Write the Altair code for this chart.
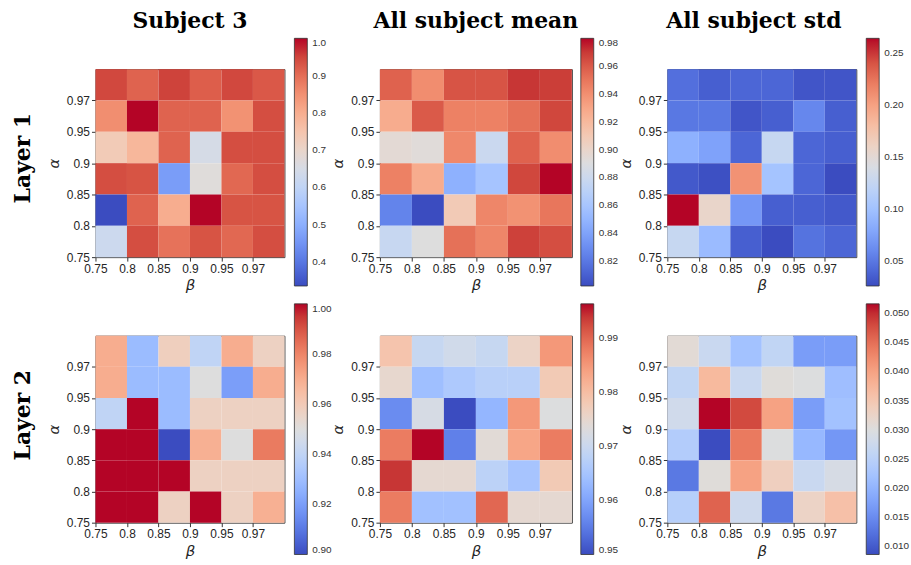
import json
import numpy as np
import pandas as pd
import altair as alt

# ---------------- data ----------------
BETA_LABELS = ["0.75", "0.8", "0.85", "0.9", "0.95", "0.97"]
ALPHA_LABELS = ["0.75", "0.8", "0.85", "0.9", "0.95", "0.97"]
PANEL_TITLES = ["Subject 3", "All subject mean", "All subject std"]
ROW_LABELS = ["Layer 1", "Layer 2"]

# each matrix: rows from top (alpha=0.97) to bottom (alpha=0.75); columns beta 0.75 -> 0.97
L1_SUBJECT3 = [
    [0.947, 0.913, 0.953, 0.920, 0.947, 0.927],
    [0.853, 1.000, 0.913, 0.913, 0.847, 0.940],
    [0.733, 0.780, 0.913, 0.647, 0.940, 0.940],
    [0.940, 0.933, 0.466, 0.673, 0.907, 0.940],
    [0.335, 0.913, 0.800, 1.000, 0.933, 0.933],
    [0.626, 0.940, 0.893, 0.933, 0.907, 0.940],
]
L1_MEAN = [
    [0.957, 0.941, 0.962, 0.962, 0.971, 0.969],
    [0.927, 0.960, 0.946, 0.946, 0.952, 0.966],
    [0.895, 0.893, 0.943, 0.879, 0.957, 0.941],
    [0.946, 0.927, 0.847, 0.859, 0.966, 0.980],
    [0.825, 0.802, 0.909, 0.944, 0.939, 0.950],
    [0.877, 0.891, 0.952, 0.944, 0.968, 0.964],
]
L1_STD = [
    [0.045, 0.036, 0.040, 0.040, 0.031, 0.031],
    [0.050, 0.050, 0.031, 0.036, 0.059, 0.036],
    [0.086, 0.076, 0.040, 0.126, 0.040, 0.036],
    [0.033, 0.028, 0.209, 0.102, 0.040, 0.026],
    [0.264, 0.157, 0.069, 0.036, 0.036, 0.033],
    [0.126, 0.095, 0.036, 0.026, 0.047, 0.040],
]
L2_SUBJECT3 = [
    [0.970, 0.929, 0.958, 0.940, 0.970, 0.957],
    [0.970, 0.929, 0.929, 0.950, 0.920, 0.970],
    [0.940, 1.000, 0.929, 0.957, 0.957, 0.957],
    [1.000, 1.000, 0.900, 0.969, 0.950, 0.982],
    [1.000, 1.000, 1.000, 0.957, 0.957, 0.957],
    [1.000, 1.000, 0.957, 1.000, 0.957, 0.969],
]
L2_MEAN = [
    [0.979, 0.9695, 0.971, 0.9695, 0.976, 0.985],
    [0.975, 0.964, 0.966, 0.9675, 0.9675, 0.978],
    [0.957, 0.972, 0.950, 0.9625, 0.985, 0.973],
    [0.988, 0.9964, 0.9556, 0.974, 0.9834, 0.988],
    [0.994, 0.9746, 0.9746, 0.968, 0.965, 0.978],
    [0.988, 0.9644, 0.9644, 0.990, 0.9746, 0.9746],
]
L2_STD = [
    [0.031, 0.027, 0.022, 0.026, 0.017, 0.017],
    [0.026, 0.037, 0.027, 0.0305, 0.030, 0.0215],
    [0.028, 0.0516, 0.048, 0.040, 0.017, 0.022],
    [0.024, 0.0086, 0.044, 0.030, 0.0206, 0.0163],
    [0.013, 0.0305, 0.040, 0.0335, 0.027, 0.029],
    [0.0245, 0.046, 0.0275, 0.013, 0.0327, 0.036],
]

# colour-bar ranges and ticks
L1_SUBJECT3_RANGE = [0.335, 1.0]
L1_MEAN_RANGE = [0.802, 0.98]
L1_STD_RANGE = [0.026, 0.264]
L2_SUBJECT3_RANGE = [0.90, 1.00]
L2_MEAN_RANGE = [0.95, 0.9964]
L2_STD_RANGE = [0.0086, 0.0516]

L1_SUBJECT3_TICKS = [0.4, 0.5, 0.6, 0.7, 0.8, 0.9, 1.0]
L1_MEAN_TICKS = [0.82, 0.84, 0.86, 0.88, 0.90, 0.92, 0.94, 0.96, 0.98]
L1_STD_TICKS = [0.05, 0.10, 0.15, 0.20, 0.25]
L2_SUBJECT3_TICKS = [0.90, 0.92, 0.94, 0.96, 0.98, 1.00]
L2_MEAN_TICKS = [0.95, 0.96, 0.97, 0.98, 0.99]
L2_STD_TICKS = [0.010, 0.015, 0.020, 0.025, 0.030, 0.035, 0.040, 0.045, 0.050]

# matplotlib "coolwarm" colour map
COOLWARM = [
    "#3b4cc0", "#445acc", "#4d68d7", "#5775e1", "#6282ea", "#6c8ef1", "#779af7",
    "#82a5fb", "#8db0fe", "#98b9ff", "#a3c2ff", "#aec9fd", "#b8d0f9", "#c2d5f4",
    "#ccd9ee", "#d5dbe6", "#dddddd", "#e5d8d1", "#ecd3c5", "#f1ccb9", "#f5c4ad",
    "#f7bba0", "#f7b194", "#f7a687", "#f49a7b", "#f18d6f", "#ec7f63", "#e57058",
    "#de604d", "#d55042", "#cb3e38", "#c0282f", "#b40426",
]

TITLE_FONT = "DejaVu Serif"
TICK_FONT = "Liberation Sans"


def cells(matrix):
    n = len(matrix)
    recs = []
    for r, row in enumerate(matrix):
        a = n - 1 - r
        for c, v in enumerate(row):
            recs.append({"bi": c, "bi2": c + 1, "ai": a, "ai2": a + 1, "value": v})
    return pd.DataFrame(recs)


def panel(matrix, vrange, ticks, fmt, width, height, leg_x, leg_y, leg_len,
          title=None, title_dx=0, row_label=None, label_y=0):
    df = cells(matrix)
    n = len(BETA_LABELS)
    stops = [float(s) for s in np.linspace(vrange[0], vrange[1], len(COOLWARM))]
    common_axis = dict(
        values=list(range(n)),
        labelFont=TICK_FONT, labelFontSize=12, labelColor="#262626",
        labelFlush=False, labelOverlap=False,
        tickColor="#333333", tickSize=4, tickWidth=1,
        domain=False, grid=False, labelPadding=2,
        titleFont="DejaVu Sans", titleFontStyle="italic", titleFontWeight="normal",
        titleFontSize=15, titleColor="#262626",
    )
    heat = alt.Chart(df).mark_rect().encode(
        x=alt.X("bi:Q", scale=alt.Scale(domain=[0, n], nice=False, zero=False),
                axis=alt.Axis(title="β", labelExpr=f"{json.dumps(BETA_LABELS)}[datum.value]",
                              labelAngle=0, titlePadding=4, **common_axis)),
        x2="bi2:Q",
        y=alt.Y("ai:Q", scale=alt.Scale(domain=[0, n], nice=False, zero=False),
                axis=alt.Axis(title="α", labelExpr=f"{json.dumps(ALPHA_LABELS)}[datum.value]",
                              titlePadding=5, **common_axis)),
        y2="ai2:Q",
        color=alt.Color(
            "value:Q", title=None,
            scale=alt.Scale(domain=stops, range=COOLWARM, interpolate="rgb", clamp=True),
            legend=alt.Legend(
                orient="none", legendX=leg_x, legendY=leg_y, direction="vertical",
                gradientLength=leg_len, gradientThickness=13,
                gradientStrokeColor="#333333", gradientStrokeWidth=0.8,
                values=ticks, format=fmt,
                labelFont=TICK_FONT, labelFontSize=10, labelColor="#333333",
                labelOffset=5, padding=0,
            ),
        ),
    )
    layers = [heat]
    if row_label:
        lab = alt.Chart(pd.DataFrame({"t": [row_label]})).mark_text(
            font=TITLE_FONT, fontSize=22, fontWeight="bold", angle=270,
            align="center", baseline="alphabetic", color="black",
        ).encode(text="t:N", x=alt.value(-66), y=alt.value(label_y))
        layers.append(lab)
    ch = alt.layer(*layers) if len(layers) > 1 else heat
    props = dict(width=width, height=height)
    if title:
        props["title"] = alt.TitleParams(
            text=title, font=TITLE_FONT, fontSize=22, fontWeight="bold", color="black",
            anchor="middle", frame="group", baseline="alphabetic", offset=-12, dx=title_dx,
        )
    return ch.properties(**props)


H1, H2 = 189, 188
p1 = panel(L1_SUBJECT3, L1_SUBJECT3_RANGE, L1_SUBJECT3_TICKS, ".1f", 190, H1, 200, -31, 249,
           title=PANEL_TITLES[0], row_label=ROW_LABELS[0], label_y=89.5)
p2 = panel(L1_MEAN, L1_MEAN_RANGE, L1_MEAN_TICKS, ".2f", 193, H1, 202, -31, 249,
           title=PANEL_TITLES[1])
p3 = panel(L1_STD, L1_STD_RANGE, L1_STD_TICKS, ".2f", 190, H1, 200, -31, 249,
           title=PANEL_TITLES[2], title_dx=-8)
p4 = panel(L2_SUBJECT3, L2_SUBJECT3_RANGE, L2_SUBJECT3_TICKS, ".2f", 190, H2, 200, -32, 252,
           row_label=ROW_LABELS[1], label_y=80)
p5 = panel(L2_MEAN, L2_MEAN_RANGE, L2_MEAN_TICKS, ".2f", 193, H2, 202, -32, 252)
p6 = panel(L2_STD, L2_STD_RANGE, L2_STD_TICKS, ".3f", 190, H2, 200, -32, 252)

chart = (
    alt.concat(p1, p2, p3, p4, p5, p6, columns=3,
               spacing={"row": 79, "column": 96}, bounds="flush")
    .resolve_scale(color="independent")
    .properties(padding={"left": 11, "top": 8, "right": 0, "bottom": 0})
    .configure(background="white")
    .configure_view(stroke="#3a3a3a", strokeWidth=1)
)

chart.save("out.html", embed_options={"renderer": "svg", "actions": False})
